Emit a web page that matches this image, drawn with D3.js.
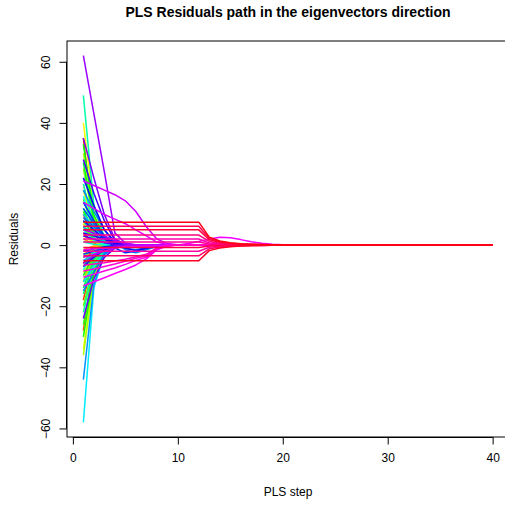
<!DOCTYPE html>
<html lang="en">
<head>
    <meta charset="utf-8">
    <script src="https://d3js.org/d3.v7.min.js"></script>
    <title>PLS Residuals path</title>
    <style>
        body { margin: 0; background: #fff; }
        text { font-family: "Liberation Sans", Arial, sans-serif; fill: #000; }
    </style>
</head>
<body>
<svg id="vis" width="505" height="506"></svg>

<script>

    /* ---- data ---- */

    // PLS steps on the x axis
    const steps = [1,2,3,4,5,6,7,8,9,10,11,12,13,14,15,16,17,18,19,20,
                   21,22,23,24,25,26,27,28,29,30,31,32,33,34,35,36,37,38,39,40];

    const xTicks = [0, 10, 20, 30, 40];
    const yTicks = [-60, -40, -20, 0, 20, 40, 60];

    // one row per eigenvector direction, residual at each PLS step
    // (drawn in this order, coloured with rainbow(n) like matplot)
    const residualPaths = [
        // red .. yellow, gone after step 2
        [4,0.6,0.1,0,0,0,0,0,0,0,0,0,0,0,0,0,0,0,0,0,0,0,0,0,0,0,0,0,0,0,0,0,0,0,0,0,0,0,0,0],
        [-6,-0.9,-0.1,0,0,0,0,0,0,0,0,0,0,0,0,0,0,0,0,0,0,0,0,0,0,0,0,0,0,0,0,0,0,0,0,0,0,0,0,0],
        [35,5,0.7,0.1,0,0,0,0,0,0,0,0,0,0,0,0,0,0,0,0,0,0,0,0,0,0,0,0,0,0,0,0,0,0,0,0,0,0,0,0],
        [-18,-3,-0.4,0,0,0,0,0,0,0,0,0,0,0,0,0,0,0,0,0,0,0,0,0,0,0,0,0,0,0,0,0,0,0,0,0,0,0,0,0],
        [10,1.5,0.2,0,0,0,0,0,0,0,0,0,0,0,0,0,0,0,0,0,0,0,0,0,0,0,0,0,0,0,0,0,0,0,0,0,0,0,0,0],
        [-28,-5,-0.7,-0.1,0,0,0,0,0,0,0,0,0,0,0,0,0,0,0,0,0,0,0,0,0,0,0,0,0,0,0,0,0,0,0,0,0,0,0,0],
        [6,1,0.2,0,0,0,0,0,0,0,0,0,0,0,0,0,0,0,0,0,0,0,0,0,0,0,0,0,0,0,0,0,0,0,0,0,0,0,0,0],
        [-12,-2,-0.3,0,0,0,0,0,0,0,0,0,0,0,0,0,0,0,0,0,0,0,0,0,0,0,0,0,0,0,0,0,0,0,0,0,0,0,0,0],
        [2,0.3,0.05,0,0,0,0,0,0,0,0,0,0,0,0,0,0,0,0,0,0,0,0,0,0,0,0,0,0,0,0,0,0,0,0,0,0,0,0,0],
        [-1.5,-0.3,0,0,0,0,0,0,0,0,0,0,0,0,0,0,0,0,0,0,0,0,0,0,0,0,0,0,0,0,0,0,0,0,0,0,0,0,0,0],
        [20,5,1,0.1,0,0,0,0,0,0,0,0,0,0,0,0,0,0,0,0,0,0,0,0,0,0,0,0,0,0,0,0,0,0,0,0,0,0,0,0],
        [-3,-0.5,0,0,0,0,0,0,0,0,0,0,0,0,0,0,0,0,0,0,0,0,0,0,0,0,0,0,0,0,0,0,0,0,0,0,0,0,0,0],
        [7,1.2,0.2,0,0,0,0,0,0,0,0,0,0,0,0,0,0,0,0,0,0,0,0,0,0,0,0,0,0,0,0,0,0,0,0,0,0,0,0,0],
        [-9,-1.6,-0.3,0,0,0,0,0,0,0,0,0,0,0,0,0,0,0,0,0,0,0,0,0,0,0,0,0,0,0,0,0,0,0,0,0,0,0,0,0],
        // greens .. spring green
        [40,12,2.4,0.4,0,0,0,0,0,0,0,0,0,0,0,0,0,0,0,0,0,0,0,0,0,0,0,0,0,0,0,0,0,0,0,0,0,0,0,0],
        [-34,-10,-2,-0.3,0,0,0,0,0,0,0,0,0,0,0,0,0,0,0,0,0,0,0,0,0,0,0,0,0,0,0,0,0,0,0,0,0,0,0,0],
        [18,5,1,0.2,0,0,0,0,0,0,0,0,0,0,0,0,0,0,0,0,0,0,0,0,0,0,0,0,0,0,0,0,0,0,0,0,0,0,0,0],
        [3,0.9,0.2,0,0,0,0,0,0,0,0,0,0,0,0,0,0,0,0,0,0,0,0,0,0,0,0,0,0,0,0,0,0,0,0,0,0,0,0,0],
        [30,9,1.8,0.3,0,0,0,0,0,0,0,0,0,0,0,0,0,0,0,0,0,0,0,0,0,0,0,0,0,0,0,0,0,0,0,0,0,0,0,0],
        [-36,-11,-2.2,-0.4,0,0,0,0,0,0,0,0,0,0,0,0,0,0,0,0,0,0,0,0,0,0,0,0,0,0,0,0,0,0,0,0,0,0,0,0],
        [-12,-3.5,-0.7,0,0,0,0,0,0,0,0,0,0,0,0,0,0,0,0,0,0,0,0,0,0,0,0,0,0,0,0,0,0,0,0,0,0,0,0,0],
        [25,7.5,1.5,0.3,0,0,0,0,0,0,0,0,0,0,0,0,0,0,0,0,0,0,0,0,0,0,0,0,0,0,0,0,0,0,0,0,0,0,0,0],
        [-4,-1.2,-0.2,0,0,0,0,0,0,0,0,0,0,0,0,0,0,0,0,0,0,0,0,0,0,0,0,0,0,0,0,0,0,0,0,0,0,0,0,0],
        [-20,-6,-1.2,-0.2,0,0,0,0,0,0,0,0,0,0,0,0,0,0,0,0,0,0,0,0,0,0,0,0,0,0,0,0,0,0,0,0,0,0,0,0],
        [6,2,0.4,0,0,0,0,0,0,0,0,0,0,0,0,0,0,0,0,0,0,0,0,0,0,0,0,0,0,0,0,0,0,0,0,0,0,0,0,0],
        [15,4.5,0.9,0.1,0,0,0,0,0,0,0,0,0,0,0,0,0,0,0,0,0,0,0,0,0,0,0,0,0,0,0,0,0,0,0,0,0,0,0,0],
        [-26,-8,-1.6,-0.3,0,0,0,0,0,0,0,0,0,0,0,0,0,0,0,0,0,0,0,0,0,0,0,0,0,0,0,0,0,0,0,0,0,0,0,0],
        [11,3.3,0.7,0.1,0,0,0,0,0,0,0,0,0,0,0,0,0,0,0,0,0,0,0,0,0,0,0,0,0,0,0,0,0,0,0,0,0,0,0,0],
        [-30,-9,-1.8,-0.3,0,0,0,0,0,0,0,0,0,0,0,0,0,0,0,0,0,0,0,0,0,0,0,0,0,0,0,0,0,0,0,0,0,0,0,0],
        [33,10,2,0.3,0,0,0,0,0,0,0,0,0,0,0,0,0,0,0,0,0,0,0,0,0,0,0,0,0,0,0,0,0,0,0,0,0,0,0,0],
        [-10,-3,-0.6,0,0,0,0,0,0,0,0,0,0,0,0,0,0,0,0,0,0,0,0,0,0,0,0,0,0,0,0,0,0,0,0,0,0,0,0,0],
        [27,8,1.6,0.3,0,0,0,0,0,0,0,0,0,0,0,0,0,0,0,0,0,0,0,0,0,0,0,0,0,0,0,0,0,0,0,0,0,0,0,0],
        [12,3.6,0.7,0.1,0,0,0,0,0,0,0,0,0,0,0,0,0,0,0,0,0,0,0,0,0,0,0,0,0,0,0,0,0,0,0,0,0,0,0,0],
        [-14,-4.2,-0.8,-0.1,0,0,0,0,0,0,0,0,0,0,0,0,0,0,0,0,0,0,0,0,0,0,0,0,0,0,0,0,0,0,0,0,0,0,0,0],
        [-7,-2,-0.4,0,0,0,0,0,0,0,0,0,0,0,0,0,0,0,0,0,0,0,0,0,0,0,0,0,0,0,0,0,0,0,0,0,0,0,0,0],
        [-16,-5,-1,-0.1,0,0,0,0,0,0,0,0,0,0,0,0,0,0,0,0,0,0,0,0,0,0,0,0,0,0,0,0,0,0,0,0,0,0,0,0],
        [8,2.4,0.5,0,0,0,0,0,0,0,0,0,0,0,0,0,0,0,0,0,0,0,0,0,0,0,0,0,0,0,0,0,0,0,0,0,0,0,0,0],
        [-22,-6.5,-1.3,-0.2,0,0,0,0,0,0,0,0,0,0,0,0,0,0,0,0,0,0,0,0,0,0,0,0,0,0,0,0,0,0,0,0,0,0,0,0],
        [49,13,2.5,0.5,0,0,0,0,0,0,0,0,0,0,0,0,0,0,0,0,0,0,0,0,0,0,0,0,0,0,0,0,0,0,0,0,0,0,0,0],
        [20,6,1.2,0.2,0,0,0,0,0,0,0,0,0,0,0,0,0,0,0,0,0,0,0,0,0,0,0,0,0,0,0,0,0,0,0,0,0,0,0,0],
        [1,0.3,0,0,0,0,0,0,0,0,0,0,0,0,0,0,0,0,0,0,0,0,0,0,0,0,0,0,0,0,0,0,0,0,0,0,0,0,0,0],
        [5,1.5,0.3,0,0,0,0,0,0,0,0,0,0,0,0,0,0,0,0,0,0,0,0,0,0,0,0,0,0,0,0,0,0,0,0,0,0,0,0,0],
        [-8,-2.4,-0.5,0,0,0,0,0,0,0,0,0,0,0,0,0,0,0,0,0,0,0,0,0,0,0,0,0,0,0,0,0,0,0,0,0,0,0,0,0],
        [16,5,1,0.2,0,0,0,0,0,0,0,0,0,0,0,0,0,0,0,0,0,0,0,0,0,0,0,0,0,0,0,0,0,0,0,0,0,0,0,0],
        // cyan .. light blue
        [-58,-14,-3,-0.5,0,0,0,0,0,0,0,0,0,0,0,0,0,0,0,0,0,0,0,0,0,0,0,0,0,0,0,0,0,0,0,0,0,0,0,0],
        [-12,-7,-2.5,-0.6,-0.1,0,0,0,0,0,0,0,0,0,0,0,0,0,0,0,0,0,0,0,0,0,0,0,0,0,0,0,0,0,0,0,0,0,0,0],
        [10,6,2.5,0.5,-0.5,-0.8,-0.4,-0.1,0,0,0,0,0,0,0,0,0,0,0,0,0,0,0,0,0,0,0,0,0,0,0,0,0,0,0,0,0,0,0,0],
        [-5,-3,-1,-0.3,0,0,0,0,0,0,0,0,0,0,0,0,0,0,0,0,0,0,0,0,0,0,0,0,0,0,0,0,0,0,0,0,0,0,0,0],
        [6,3.5,1.2,0.3,0,0,0,0,0,0,0,0,0,0,0,0,0,0,0,0,0,0,0,0,0,0,0,0,0,0,0,0,0,0,0,0,0,0,0,0],
        [-44,-13,-2.5,-0.5,0,0,0,0,0,0,0,0,0,0,0,0,0,0,0,0,0,0,0,0,0,0,0,0,0,0,0,0,0,0,0,0,0,0,0,0],
        // blues, a bit slower
        [18,11,5,0.5,-1.5,-2.5,-1.5,-0.5,-0.1,0,0,0,0,0,0,0,0,0,0,0,0,0,0,0,0,0,0,0,0,0,0,0,0,0,0,0,0,0,0,0],
        [-15,-9,-3,-0.8,-0.1,0,0,0,0,0,0,0,0,0,0,0,0,0,0,0,0,0,0,0,0,0,0,0,0,0,0,0,0,0,0,0,0,0,0,0],
        [9,6,3,0.5,-1,-1.5,-0.8,-0.2,0,0,0,0,0,0,0,0,0,0,0,0,0,0,0,0,0,0,0,0,0,0,0,0,0,0,0,0,0,0,0,0],
        [12,7,2.5,0.6,0.1,0,0,0,0,0,0,0,0,0,0,0,0,0,0,0,0,0,0,0,0,0,0,0,0,0,0,0,0,0,0,0,0,0,0,0],
        [-3,-2,-1,-0.5,-0.2,0,0,0,0,0,0,0,0,0,0,0,0,0,0,0,0,0,0,0,0,0,0,0,0,0,0,0,0,0,0,0,0,0,0,0],
        [14,8,3,-1,-2.5,-2,-1,-0.3,0,0,0,0,0,0,0,0,0,0,0,0,0,0,0,0,0,0,0,0,0,0,0,0,0,0,0,0,0,0,0,0],
        [-2,-1.2,-0.5,-0.1,0,0,0,0,0,0,0,0,0,0,0,0,0,0,0,0,0,0,0,0,0,0,0,0,0,0,0,0,0,0,0,0,0,0,0,0],
        [22,13,5,1,-1,-1.8,-1,-0.3,0,0,0,0,0,0,0,0,0,0,0,0,0,0,0,0,0,0,0,0,0,0,0,0,0,0,0,0,0,0,0,0],
        [8,5,2,0.4,0.1,0,0,0,0,0,0,0,0,0,0,0,0,0,0,0,0,0,0,0,0,0,0,0,0,0,0,0,0,0,0,0,0,0,0,0],
        [-7,-4,-1.5,-0.4,0,0,0,0,0,0,0,0,0,0,0,0,0,0,0,0,0,0,0,0,0,0,0,0,0,0,0,0,0,0,0,0,0,0,0,0],
        [4,3,2,1,0.3,0,0,0,0,0,0,0,0,0,0,0,0,0,0,0,0,0,0,0,0,0,0,0,0,0,0,0,0,0,0,0,0,0,0,0],
        [28,17,8,1.5,0.3,0,0,0,0,0,0,0,0,0,0,0,0,0,0,0,0,0,0,0,0,0,0,0,0,0,0,0,0,0,0,0,0,0,0,0],
        [3,2,0.8,0.2,0,0,0,0,0,0,0,0,0,0,0,0,0,0,0,0,0,0,0,0,0,0,0,0,0,0,0,0,0,0,0,0,0,0,0,0],
        [-24,-11,-4,-1,-0.2,0,0,0,0,0,0,0,0,0,0,0,0,0,0,0,0,0,0,0,0,0,0,0,0,0,0,0,0,0,0,0,0,0,0,0],
        [35,22,10,2,0.3,0,0,0,0,0,0,0,0,0,0,0,0,0,0,0,0,0,0,0,0,0,0,0,0,0,0,0,0,0,0,0,0,0,0,0],
        [-6,-3.5,-1.2,-0.3,0,0,0,0,0,0,0,0,0,0,0,0,0,0,0,0,0,0,0,0,0,0,0,0,0,0,0,0,0,0,0,0,0,0,0,0],
        // purples
        [62,43,24,4,0.6,0.1,0,0,0,0,0,0,0,0,0,0,0,0,0,0,0,0,0,0,0,0,0,0,0,0,0,0,0,0,0,0,0,0,0,0],
        [5,4,3,1.5,0.4,0,0,0,0,0,0,0,0,0,0,0,0,0,0,0,0,0,0,0,0,0,0,0,0,0,0,0,0,0,0,0,0,0,0,0],
        [-4,-3,-2,-1,-0.3,0,0,0,0,0,0,0,0,0,0,0,0,0,0,0,0,0,0,0,0,0,0,0,0,0,0,0,0,0,0,0,0,0,0,0],
        // magentas, slow decay
        [21,19.5,18,16.5,14.5,11,6,2,0.5,0.1,0,0,0,0,0,0,0,0,0,0,0,0,0,0,0,0,0,0,0,0,0,0,0,0,0,0,0,0,0,0],
        [14,12,10,8.5,7,5,3,1,0.2,0,0,0,0,0,0,0,0,0,0,0,0,0,0,0,0,0,0,0,0,0,0,0,0,0,0,0,0,0,0,0],
        [-1.5,-1.2,-1,-0.8,-0.6,-0.5,-0.4,-0.3,-0.2,0,0.5,1.2,2,2.6,2.4,1.8,1.1,0.6,0.3,0.1,0,0,0,0,0,0,0,0,0,0,0,0,0,0,0,0,0,0,0,0],
        [-13.3,-12,-10.7,-9.3,-8,-6.5,-4.5,-1.5,-0.3,0,0,0,0,0,0,0,0,0,0,0,0,0,0,0,0,0,0,0,0,0,0,0,0,0,0,0,0,0,0,0],
        [-10.5,-9.5,-8.5,-7.5,-6.3,-5,-4,-1.3,-0.2,0,0,0,0,0,0,0,0,0,0,0,0,0,0,0,0,0,0,0,0,0,0,0,0,0,0,0,0,0,0,0],
        [-8.5,-7.8,-7,-6.2,-5.3,-4.3,-3.5,-1.1,-0.2,0,0,0,0,0,0,0,0,0,0,0,0,0,0,0,0,0,0,0,0,0,0,0,0,0,0,0,0,0,0,0],
        [-6.6,-6.2,-5.8,-5.2,-4.6,-3.8,-3,-0.9,-0.1,0,0,0,0,0,0,0,0,0,0,0,0,0,0,0,0,0,0,0,0,0,0,0,0,0,0,0,0,0,0,0],
        // pink .. red, flat until step 12
        [2,2,2,2,2,2,2,2,2,2,2,2,0.7,0.36,0.2,0.12,0.08,0.05,0.03,0.02,0.01,0,0,0,0,0,0,0,0,0,0,0,0,0,0,0,0,0,0,0],
        [-2,-2,-2,-2,-2,-2,-2,-2,-2,-2,-2,-2,-0.7,-0.36,-0.2,-0.12,-0.08,-0.05,-0.03,-0.02,-0.01,0,0,0,0,0,0,0,0,0,0,0,0,0,0,0,0,0,0,0],
        [1,1,1,1,1,1,1,1,1,1,1,1,0.35,0.18,0.1,0.06,0.04,0.03,0.02,0.01,0,0,0,0,0,0,0,0,0,0,0,0,0,0,0,0,0,0,0,0],
        [3.3,3.3,3.3,3.3,3.3,3.3,3.3,3.3,3.3,3.3,3.3,3.3,1.2,0.6,0.33,0.2,0.13,0.08,0.05,0.03,0.02,0.01,0,0,0,0,0,0,0,0,0,0,0,0,0,0,0,0,0,0],
        [-3.5,-3.5,-3.5,-3.5,-3.5,-3.5,-3.5,-3.5,-3.5,-3.5,-3.5,-3.5,-1.2,-0.63,-0.35,-0.21,-0.14,-0.09,-0.05,-0.04,-0.02,-0.01,0,0,0,0,0,0,0,0,0,0,0,0,0,0,0,0,0,0],
        [6.2,6.2,6.2,6.2,6.2,6.2,6.2,6.2,6.2,6.2,6.2,6.2,2.2,1.1,0.62,0.37,0.25,0.16,0.09,0.06,0.03,0.02,0.01,0,0,0,0,0,0,0,0,0,0,0,0,0,0,0,0,0],
        [-0.8,-0.8,-0.8,-0.8,-0.8,-0.8,-0.8,-0.8,-0.8,-0.8,-0.8,-0.8,-0.28,-0.14,-0.08,-0.05,-0.03,-0.02,-0.01,0,0,0,0,0,0,0,0,0,0,0,0,0,0,0,0,0,0,0,0,0],
        [5,5,5,5,5,5,5,5,5,5,5,5,1.75,0.9,0.5,0.3,0.2,0.13,0.08,0.05,0.03,0.02,0.01,0,0,0,0,0,0,0,0,0,0,0,0,0,0,0,0,0],
        [-5.1,-5.1,-5.1,-5.1,-5.1,-5.1,-5.1,-5.1,-5.1,-5.1,-5.1,-5.1,-1.8,-0.92,-0.51,-0.31,-0.2,-0.13,-0.08,-0.05,-0.03,-0.02,-0.01,0,0,0,0,0,0,0,0,0,0,0,0,0,0,0,0,0],
        [7.5,7.5,7.5,7.5,7.5,7.5,7.5,7.5,7.5,7.5,7.5,7.5,2.6,1.35,0.75,0.45,0.3,0.19,0.11,0.08,0.04,0.02,0.01,0,0,0,0,0,0,0,0,0,0,0,0,0,0,0,0,0]
    ];

    /* ---- layout (R base graphics look) ---- */

    const svg = d3.select("#vis");

    const box = { left: 67, right: 509, top: 41, bottom: 437 };

    // R pads the data range by 4% on each side
    function rRange(lo, hi) {
        const pad = (hi - lo) * 0.04;
        return [lo - pad, hi + pad];
    }

    const allValues = residualPaths.flat();

    const x = d3.scaleLinear()
        .domain(rRange(d3.min(steps), d3.max(steps)))
        .range([box.left, box.right]);

    const y = d3.scaleLinear()
        .domain(rRange(d3.min(allValues), d3.max(allValues)))
        .range([box.bottom, box.top]);

    // rainbow(n) = hsv(h, 1, 1), h = 0 .. (n-1)/n
    const n = residualPaths.length;
    const colour = i => d3.hsl(360 * i / n, 1, 0.5).formatHex();

    const line = d3.line()
        .x((d, i) => x(steps[i]))
        .y(d => y(d));

    // lines, clipped to the plot box
    svg.append("clipPath").attr("id", "plotclip")
      .append("rect")
        .attr("x", box.left).attr("y", box.top)
        .attr("width", box.right - box.left)
        .attr("height", box.bottom - box.top);

    svg.append("g")
        .attr("clip-path", "url(#plotclip)")
      .selectAll("path")
      .data(residualPaths)
      .join("path")
        .attr("d", line)
        .attr("fill", "none")
        .attr("stroke", (d, i) => colour(i))
        .attr("stroke-width", 1.5)
        .attr("stroke-linejoin", "round");

    // box
    svg.append("rect")
        .attr("x", box.left).attr("y", box.top)
        .attr("width", box.right - box.left)
        .attr("height", box.bottom - box.top)
        .attr("fill", "none")
        .attr("stroke", "#000")
        .attr("stroke-width", 1);

    // x axis
    const xAxis = d3.axisBottom(x)
        .tickValues(xTicks)
        .tickSize(7.5)
        .tickPadding(9)
        .tickSizeOuter(0);

    const gx = svg.append("g")
        .attr("transform", "translate(0," + box.bottom + ")")
        .call(xAxis);
    gx.select(".domain")
        .attr("d", "M" + x(xTicks[0]) + ",0.5H" + x(xTicks[xTicks.length - 1]));
    gx.selectAll("text")
        .attr("font-size", 12)
        .attr("fill", "#000")
        .style("font-family", "Liberation Sans, Arial, sans-serif");

    // y axis, labels turned like las = 0
    const yAxis = d3.axisLeft(y)
        .tickValues(yTicks)
        .tickSize(7.5)
        .tickFormat(d => d < 0 ? "\u2212" + Math.abs(d) : d)
        .tickSizeOuter(0);

    const gy = svg.append("g")
        .attr("transform", "translate(" + box.left + ",0)")
        .call(yAxis);
    gy.select(".domain")
        .attr("d", "M-0.5," + y(yTicks[0]) + "V" + y(yTicks[yTicks.length - 1]));
    gy.selectAll(".tick text")
        .attr("x", null).attr("dy", null)
        .attr("text-anchor", "middle")
        .attr("transform", "translate(-21,0) rotate(-90)")
        .attr("dy", "0.35em")
        .attr("font-size", 12)
        .attr("fill", "#000")
        .style("font-family", "Liberation Sans, Arial, sans-serif");

    // title and axis labels
    const midX = (box.left + box.right) / 2;
    const midY = (box.top + box.bottom) / 2;

    svg.append("text")
        .attr("x", midX).attr("y", 17)
        .attr("text-anchor", "middle")
        .attr("font-size", 14)
        .attr("font-weight", "bold")
        .text("PLS Residuals path in the eigenvectors direction");

    svg.append("text")
        .attr("x", midX).attr("y", 496)
        .attr("text-anchor", "middle")
        .attr("font-size", 12)
        .text("PLS step");

    svg.append("text")
        .attr("transform", "translate(18," + midY + ") rotate(-90)")
        .attr("text-anchor", "middle")
        .attr("font-size", 12)
        .text("Residuals");

</script>
</body>
</html>
